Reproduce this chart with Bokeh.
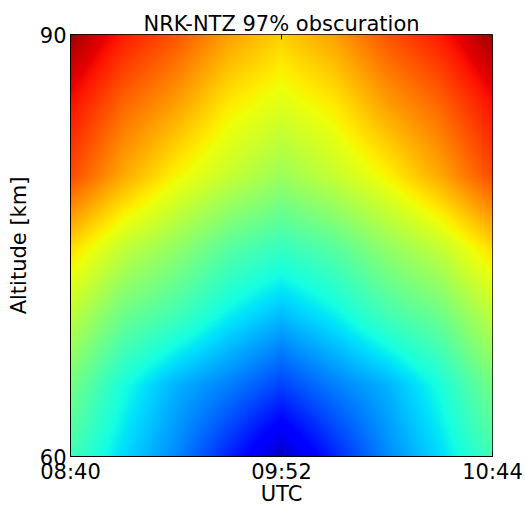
import numpy as np
from bokeh.plotting import figure
from bokeh.models import LinearColorMapper, FixedTicker, Range1d
from bokeh.embed import file_html
from bokeh.resources import INLINE

# ---- data ----
title_text = "NRK-NTZ 97% obscuration"
x_label = "UTC"
y_label = "Altitude [km]"
x_tick_pos = [0.0, 0.5, 1.0]
x_tick_labels = ["08:40", "09:52", "10:44"]
y_ticks = [60, 90]

# column positions (fraction of time interval) and altitudes of the grid
x_pos = [0.0, 0.125, 0.25, 0.375, 0.5, 0.625, 0.75, 0.875, 1.0]
altitudes = [60, 65, 70, 75, 80, 85, 90]

# field values (0..1 on the jet scale), one row per altitude
row_60 = [0.43, 0.34, 0.26, 0.16, 0.06, 0.16, 0.26, 0.34, 0.43]
row_65 = [0.49, 0.38, 0.30, 0.25, 0.19, 0.25, 0.30, 0.38, 0.49]
row_70 = [0.58, 0.48, 0.43, 0.36, 0.31, 0.36, 0.43, 0.48, 0.58]
row_75 = [0.68, 0.59, 0.53, 0.46, 0.42, 0.46, 0.53, 0.59, 0.68]
row_80 = [0.83, 0.73, 0.65, 0.59, 0.54, 0.59, 0.65, 0.73, 0.83]
row_85 = [0.89, 0.80, 0.74, 0.66, 0.62, 0.66, 0.74, 0.80, 0.89]
row_90 = [0.97, 0.88, 0.82, 0.74, 0.69, 0.74, 0.82, 0.88, 0.97]

grid = np.array([row_60, row_65, row_70, row_75, row_80, row_85, row_90])

# smooth display of the grid (bilinear shading, as an image renderer would)
nx, ny = 422, 423
fx = np.linspace(x_pos[0], x_pos[-1], nx)
fy = np.linspace(altitudes[0], altitudes[-1], ny)
tmp = np.array([np.interp(fx, x_pos, r) for r in grid])          # (7, nx)
img = np.array([np.interp(fy, altitudes, tmp[:, j]) for j in range(nx)]).T  # (ny, nx)

# jet colormap
def jet_channel(pts, t):
    xs = [a for a, b in pts]
    ys = [b for a, b in pts]
    return np.interp(t, xs, ys)

t = np.linspace(0, 1, 256)
r = jet_channel([(0, 0), (0.35, 0), (0.66, 1), (0.89, 1), (1, 0.5)], t)
g = jet_channel([(0, 0), (0.125, 0), (0.375, 1), (0.64, 1), (0.91, 0), (1, 0)], t)
b = jet_channel([(0, 0.5), (0.11, 1), (0.34, 1), (0.65, 0), (1, 0)], t)
jet = ["#%02x%02x%02x" % (int(round(rr * 255)), int(round(gg * 255)), int(round(bb * 255)))
       for rr, gg, bb in zip(r, g, b)]

mapper = LinearColorMapper(palette=jet, low=0.0, high=1.0)

FONT = "DejaVu Sans"
FS = "21px"

p = figure(width=525, height=508,
           x_range=Range1d(x_pos[0], x_pos[-1]),
           y_range=Range1d(altitudes[0], altitudes[-1]),
           output_backend="svg", toolbar_location=None,
           title=title_text,
           min_border_left=70, min_border_right=33,
           min_border_top=34, min_border_bottom=51)

p.image(image=[img], x=x_pos[0], y=altitudes[0],
        dw=x_pos[-1] - x_pos[0], dh=altitudes[-1] - altitudes[0],
        color_mapper=mapper)

# inward tick on the top edge at the middle time label
p.scatter(x=[x_tick_pos[1]], y=[altitudes[-1]], marker="dash", angle=np.pi / 2,
          size=10, line_color="black", line_width=1)

p.grid.visible = False
p.outline_line_color = "black"
p.outline_line_width = 1
p.background_fill_color = "white"
p.border_fill_color = "white"

p.title.text_font = FONT
p.title.text_font_size = FS
p.title.text_font_style = "normal"
p.title.align = "center"
p.title.text_color = "black"
p.title.standoff = -3

for ax in [p.xaxis[0], p.yaxis[0]]:
    ax.major_label_text_font = FONT
    ax.major_label_text_font_size = FS
    ax.major_label_text_color = "black"
    ax.axis_label_text_font = FONT
    ax.axis_label_text_font_size = FS
    ax.axis_label_text_font_style = "normal"
    ax.axis_label_text_color = "black"
    ax.major_tick_in = 5
    ax.major_tick_out = 0
    ax.minor_tick_line_color = None
    ax.axis_line_color = "black"

p.xaxis[0].major_label_standoff = 3
p.xaxis[0].axis_label_standoff = -5
p.yaxis[0].major_label_standoff = 4
p.yaxis[0].axis_label_standoff = 6

p.xaxis[0].ticker = FixedTicker(ticks=x_tick_pos)
p.xaxis[0].major_label_overrides = {x_tick_pos[i]: x_tick_labels[i] for i in range(len(x_tick_pos))}
p.xaxis[0].axis_label = x_label
p.yaxis[0].ticker = FixedTicker(ticks=y_ticks)
p.yaxis[0].axis_label = y_label
p.yaxis[0].major_label_orientation = "horizontal"

open("out.html", "w").write(file_html(p, INLINE))
